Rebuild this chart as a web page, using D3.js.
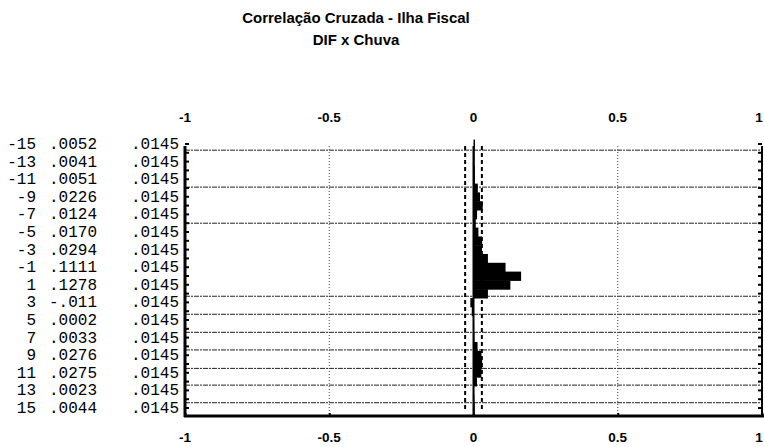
<!DOCTYPE html>
<html>
<head>
<meta charset="utf-8">
<script src="https://cdn.jsdelivr.net/npm/d3@7/dist/d3.min.js"></script>
<style>
  html, body { margin: 0; padding: 0; background: #fff; }
  svg { display: block; }
</style>
</head>
<body>
<script>
// Cross-correlation DIF x Chuva, lags -15..15
const lags = [-15,-14,-13,-12,-11,-10,-9,-8,-7,-6,-5,-4,-3,-2,-1,0,1,2,3,4,5,6,7,8,9,10,11,12,13,14,15];
const ccf  = [0.0052,0.004,0.0041,0.005,0.0051,0.015,0.0226,0.032,0.0124,0.008,0.0170,0.03,0.0294,0.05,0.1111,
              0.165,0.1278,0.05,-0.011,-0.006,0.0002,0.002,0.0033,0.014,0.0276,0.03,0.0275,0.012,0.0023,0.003,0.0044];
const stdErr = [0.0145,0.0145,0.0145,0.0145,0.0145,0.0145,0.0145,0.0145,0.0145,0.0145,0.0145,0.0145,0.0145,0.0145,0.0145,
                0.0145,0.0145,0.0145,0.0145,0.0145,0.0145,0.0145,0.0145,0.0145,0.0145,0.0145,0.0145,0.0145,0.0145,0.0145,0.0145];
const xTicks = [-1, -0.5, 0, 0.5, 1];
const xTickLabels = ["-1", "-0.5", "0", "0.5", "1"];
const gridLags = [-14.3, -10.1, -6, 2.3, 4.35, 6.4, 8.4, 10.5, 12.4, 14.4];
const titleText = "Correlação Cruzada - Ilha Fiscal";
const subtitleText = "DIF x Chuva";

const W = 764, H = 447;
const svg = d3.select("body").append("svg").attr("width", W).attr("height", H);

const plot = { left: 185, right: 762, top: 146, bottom: 416 };

const x = d3.scaleLinear().domain([-1, 1]).range([plot.left, plot.right]);
const y = d3.scaleBand().domain(lags).range([139.6, 412.4]).padding(0);
const yc = l => y(l) + y.bandwidth() / 2;
const yLag = d3.scaleLinear().domain([lags[0], lags[lags.length - 1]])
  .range([yc(lags[0]), yc(lags[lags.length - 1])]);

// titles
const titleFont = "bold 15px 'Liberation Sans', Arial, sans-serif";
svg.append("text").attr("x", 356).attr("y", 23).attr("text-anchor", "middle")
  .style("font", titleFont).text(titleText);
svg.append("text").attr("x", 356).attr("y", 45).attr("text-anchor", "middle")
  .style("font", titleFont).text(subtitleText);

// horizontal dotted grid lines
svg.append("g").selectAll("line").data(gridLags.map(yLag)).join("line")
  .attr("x1", plot.left).attr("x2", plot.right)
  .attr("y1", d => d).attr("y2", d => d)
  .attr("stroke", "#222").attr("stroke-width", 1).attr("stroke-dasharray", "5,1,2,1");

// vertical dotted grid lines at +-0.5
svg.append("g").selectAll("line").data([-0.5, 0.5]).join("line")
  .attr("x1", d => x(d)).attr("x2", d => x(d))
  .attr("y1", plot.top).attr("y2", plot.bottom)
  .attr("stroke", "#444").attr("stroke-width", 1).attr("stroke-dasharray", "1,2");

// correlation bars
svg.append("g").selectAll("rect").data(lags).join("rect")
  .attr("x", (l, i) => Math.min(x(0), x(ccf[i])))
  .attr("width", (l, i) => Math.abs(x(ccf[i]) - x(0)))
  .attr("y", l => y(l))
  .attr("height", y.bandwidth() + 0.5)
  .attr("fill", "#000");

// zero line
svg.append("line").attr("x1", x(0)).attr("x2", x(0))
  .attr("y1", plot.top).attr("y2", plot.bottom)
  .attr("stroke", "#000").attr("stroke-width", 2);

// +-2 standard error limits
const limit = 2 * stdErr[0];
svg.append("g").selectAll("line").data([-limit, limit]).join("line")
  .attr("x1", d => x(d)).attr("x2", d => x(d))
  .attr("y1", plot.top).attr("y2", plot.bottom - 4)
  .attr("stroke", "#000").attr("stroke-width", 2).attr("stroke-dasharray", "4,3");

// left and right axes with a tick per lag
const axisL = d3.axisRight(y).tickSize(4).tickFormat("");
const gL = svg.append("g").attr("transform", `translate(${plot.left},0)`).call(axisL);
gL.select(".domain").remove();
gL.selectAll(".tick line").attr("stroke-width", 2);
svg.append("line").attr("x1", plot.left).attr("x2", plot.left)
  .attr("y1", plot.top).attr("y2", plot.bottom + 1).attr("stroke", "#000").attr("stroke-width", 3);

const axisR = d3.axisLeft(y).tickSize(4).tickFormat("");
const gR = svg.append("g").attr("transform", `translate(${plot.right},0)`).call(axisR);
gR.select(".domain").remove();
gR.selectAll(".tick line").attr("stroke-width", 2);
svg.append("line").attr("x1", plot.right).attr("x2", plot.right)
  .attr("y1", plot.top).attr("y2", plot.bottom + 1).attr("stroke", "#000").attr("stroke-width", 2);

// bottom axis line
svg.append("line").attr("x1", plot.left - 1).attr("x2", W)
  .attr("y1", plot.bottom).attr("y2", plot.bottom).attr("stroke", "#000").attr("stroke-width", 3);
const axisB = d3.axisTop(x).tickValues(xTicks).tickSize(3).tickFormat("");
const gB = svg.append("g").attr("transform", `translate(0,${plot.bottom})`).call(axisB);
gB.select(".domain").remove();
gB.selectAll(".tick line").attr("stroke-width", 2);

// value labels, top and bottom
const labFont = "bold 13.5px 'Liberation Sans', Arial, sans-serif";
[122, 442].forEach(ty => {
  svg.append("g").selectAll("text").data(xTicks).join("text")
    .attr("x", d => Math.min(x(d), 759)).attr("y", ty).attr("text-anchor", "middle")
    .style("font", labFont).text((d, i) => xTickLabels[i]);
});

// table of lags, correlations and standard errors (odd lags)
const fmt = v => v < 0 ? "-" + Math.abs(v).toFixed(3).replace(/^0/, "") : v.toFixed(4).replace(/^0/, "");
const fmtSe = v => v.toFixed(4).replace(/^0/, "");
const monoFont = "16px 'Liberation Mono', 'Courier New', monospace";
const oddIdx = lags.map((l, i) => i).filter(i => lags[i] % 2 !== 0);
const table = svg.append("g").style("font", monoFont);
table.selectAll("text.lag").data(oddIdx).join("text").attr("class", "lag")
  .attr("x", 36).attr("y", i => yc(lags[i]) + 5).attr("text-anchor", "end").text(i => lags[i]);
table.selectAll("text.val").data(oddIdx).join("text").attr("class", "val")
  .attr("x", 97).attr("y", i => yc(lags[i]) + 5).attr("text-anchor", "end").text(i => fmt(ccf[i]));
table.selectAll("text.se").data(oddIdx).join("text").attr("class", "se")
  .attr("x", 179).attr("y", i => yc(lags[i]) + 5).attr("text-anchor", "end").text(i => fmtSe(stdErr[i]));
</script>
</body>
</html>
